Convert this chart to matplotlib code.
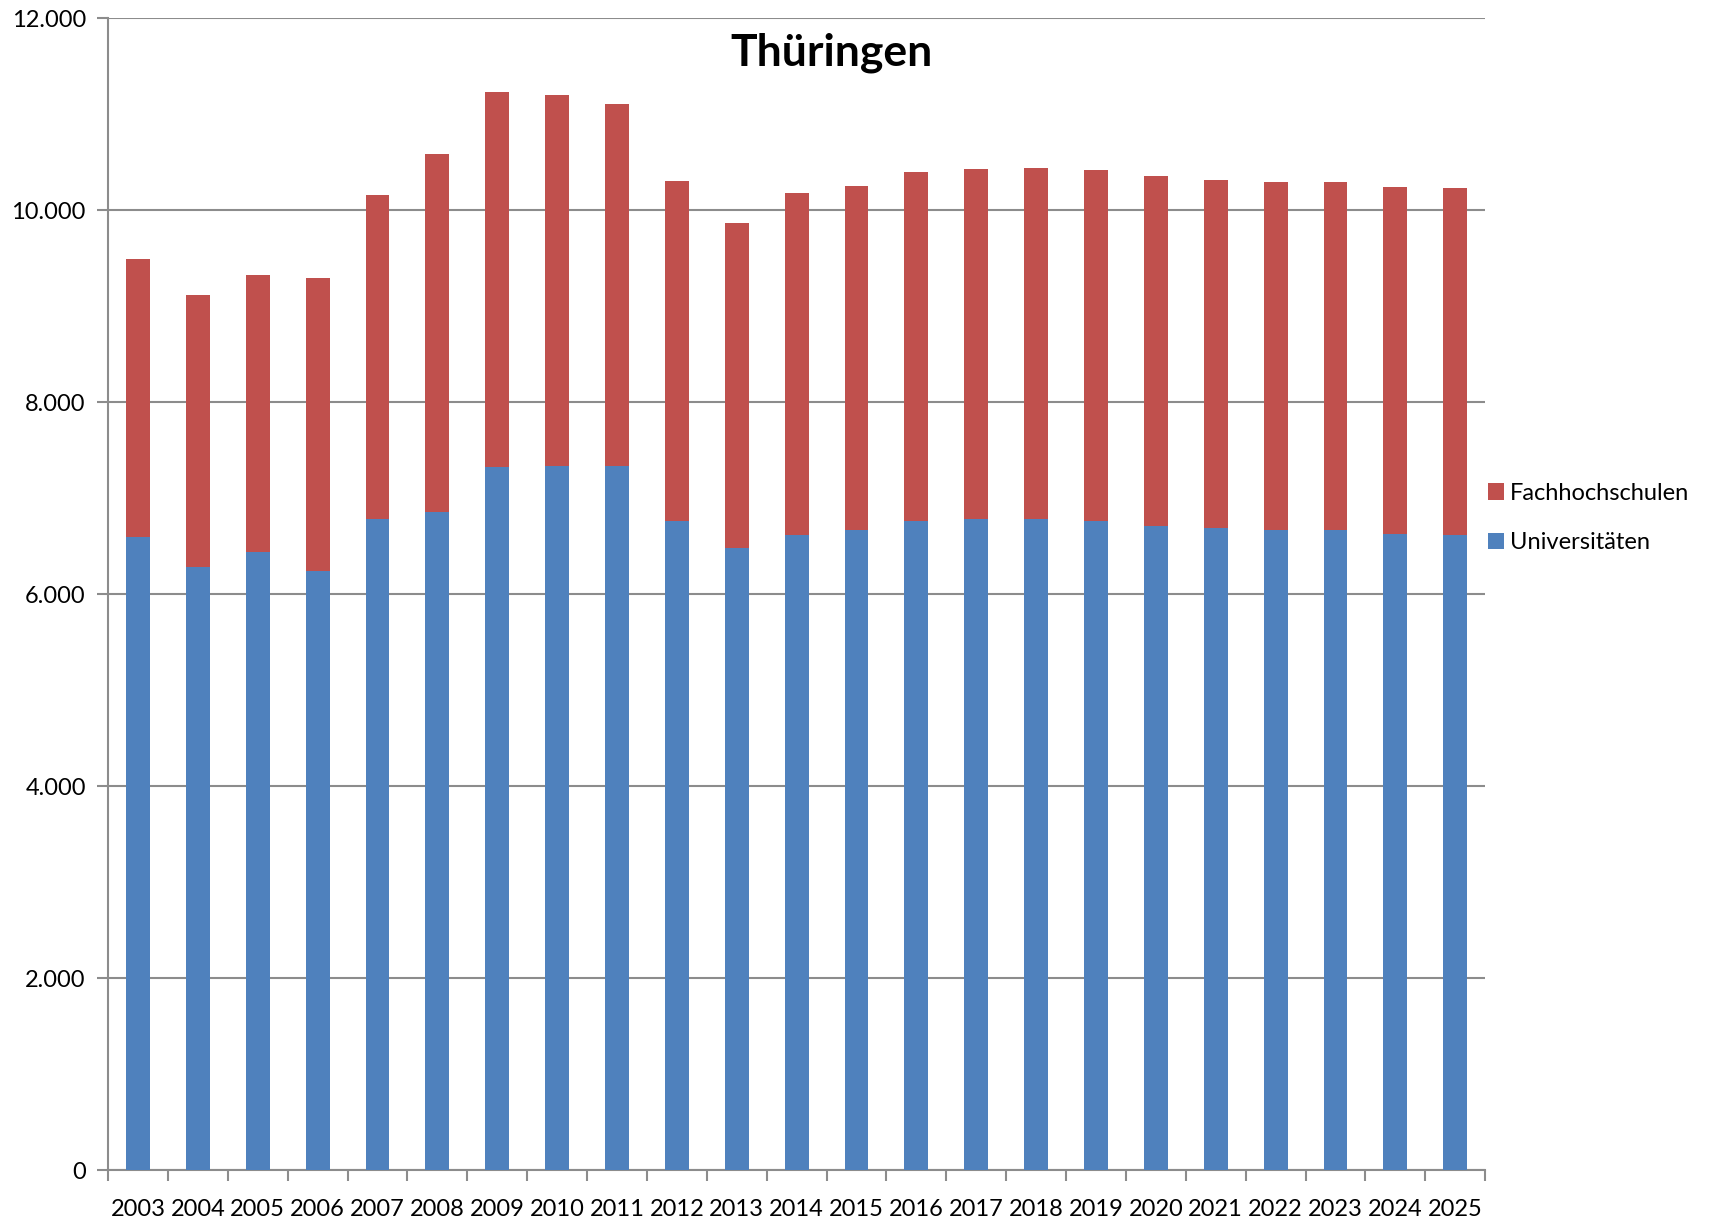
import matplotlib.pyplot as plt
from matplotlib.ticker import FuncFormatter

jahre = [str(j) for j in range(2003, 2026)]
universitaeten = [6600, 6280, 6440, 6245, 6780, 6860, 7330, 7340, 7340, 6760, 6485,
                  6620, 6665, 6760, 6780, 6780, 6760, 6710, 6690, 6665, 6665, 6630, 6620]
gesamt = [9490, 9115, 9330, 9290, 10155, 10585, 11235, 11200, 11110, 10310, 9865,
          10185, 10255, 10400, 10425, 10440, 10415, 10355, 10320, 10295, 10295, 10245, 10230]
fachhochschulen = [g - u for g, u in zip(gesamt, universitaeten)]

plt.rcParams['font.family'] = ['Lato', 'DejaVu Sans']

fig = plt.figure(figsize=(17.15, 12.19), dpi=100)
ax = fig.add_axes([0.063, 0.040, 0.803, 0.945])

x = range(len(jahre))
ax.bar(x, universitaeten, width=0.4, color='#4F81BD', label='Universitäten', zorder=3)
ax.bar(x, fachhochschulen, width=0.4, bottom=universitaeten, color='#C0504D',
       label='Fachhochschulen', zorder=3)

ax.set_xlim(-0.5, len(jahre) - 0.5)
ax.set_ylim(0, 12000)
ax.set_yticks(range(0, 12001, 2000))
ax.yaxis.set_major_formatter(FuncFormatter(lambda v, p: f"{int(v):,}".replace(",", ".")))
ax.yaxis.grid(True, color='#8c8c8c', linewidth=1.5, zorder=0)

# tick marks between categories, labels centered
ax.set_xticks([i - 0.5 for i in range(len(jahre) + 1)])
ax.set_xticklabels([])
ax.set_xticks(list(x), minor=True)
ax.set_xticklabels(jahre, minor=True)
ax.tick_params(axis='x', which='minor', length=0, labelsize=17, pad=21)
ax.tick_params(axis='x', which='major', length=8, width=1.5, color='#8c8c8c')
ax.tick_params(axis='y', length=8, width=1.5, color='#8c8c8c', labelsize=17, pad=8)

for s in ['top', 'right']:
    ax.spines[s].set_visible(False)
for s in ['left', 'bottom']:
    ax.spines[s].set_color('#8c8c8c')
    ax.spines[s].set_linewidth(1.5)

handles, labels = ax.get_legend_handles_labels()
fig.legend(handles[::-1], labels[::-1], loc='center left', bbox_to_anchor=(0.855, 0.575),
           frameon=False, fontsize=17, handlelength=0.7, handleheight=0.7,
           handletextpad=0.25, labelspacing=1.2)

fig.text(0.485, 0.957, 'Thüringen', ha='center', va='center', fontsize=32, fontweight='bold')

fig.savefig('out.png', dpi=100)
